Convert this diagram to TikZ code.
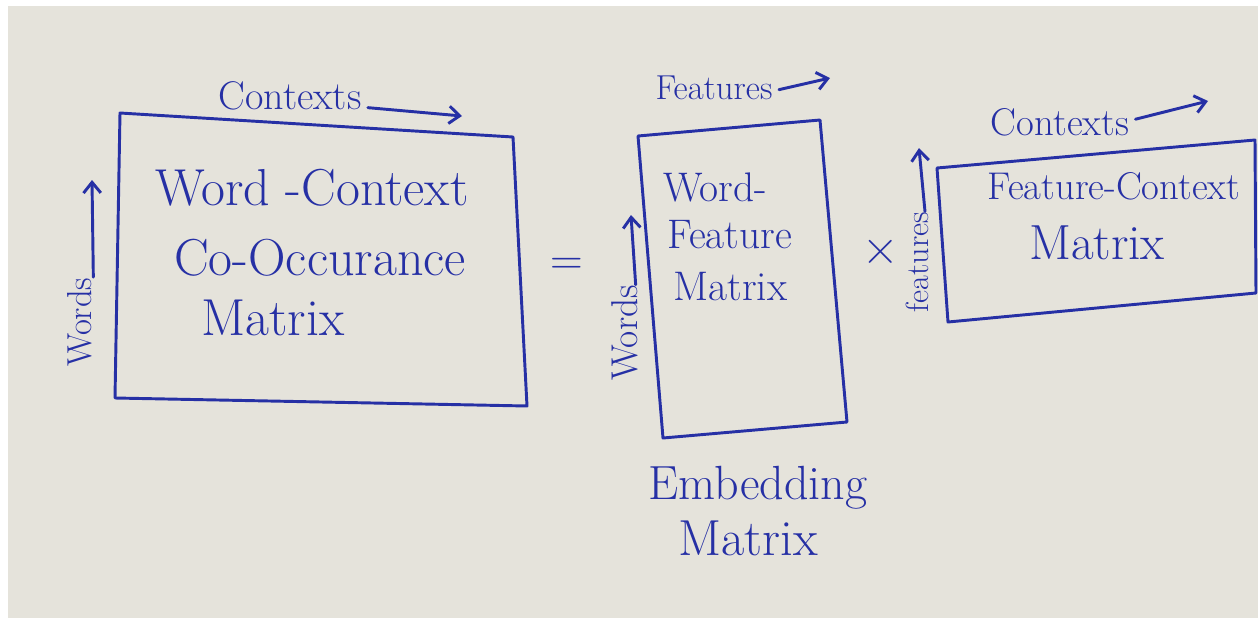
\documentclass[tikz,border=0pt]{standalone}
\usetikzlibrary{arrows.meta}

\definecolor{ink}{RGB}{38,48,165}
\definecolor{paper}{RGB}{229,227,219}

\tikzset{every picture/.style={line width=0.75pt}}
\tikzset{
  pen/.style={draw=ink, line width=2.2pt, line join=round, line cap=round},
  hand/.style={text=ink, inner sep=0pt},
  pointer/.style={pen, -{Straight Barb[length=8pt,width=13pt]}}
}

\begin{document}
\begin{tikzpicture}[x=0.75pt,y=0.75pt,yscale=-1,xscale=1]
	\useasboundingbox (0,0) rectangle (1258,618);

	%Shape: Rectangle [paper]
	\fill [white] (0,0) rectangle (1258,618);
	\fill [paper] (8,6) rectangle (1258,618);

	%Shape: Rectangle [co-occurrence matrix]
	\draw [pen] (120,113) -- (513,137) -- (527,406) -- (115,398) -- cycle ;
	%Shape: Rectangle [word-feature matrix]
	\draw [pen] (638,136) -- (820,120) -- (847,422) -- (663,438) -- cycle ;
	%Shape: Rectangle [feature-context matrix]
	\draw [pen] (937,168) -- (1255,140) -- (1256,293) -- (948,322) -- cycle ;

	% Text Node
	\node [hand, font=\fontsize{30}{32}\selectfont] (ctxA) at (290,96) {Contexts};
	% Text Node
	\node [hand, font=\fontsize{26}{28}\selectfont, rotate=90] (wordsA) at (80,322) {Words};
	% Text Node
	\node [hand, font=\fontsize{39}{42}\selectfont] (wcA) at (312,188) {Word -Context};
	% Text Node
	\node [hand, font=\fontsize{39}{42}\selectfont] (wcB) at (320,258) {Co-Occurance};
	% Text Node
	\node [hand, font=\fontsize{39}{42}\selectfont] (wcC) at (273,318) {Matrix};

	% Text Node
	\node [hand, font=\fontsize{34}{36}\selectfont] (eq) at (567,266) {=};

	% Text Node
	\node [hand, font=\fontsize{26}{28}\selectfont] (featB) at (714,88) {Features};
	% Text Node
	\node [hand, font=\fontsize{28}{30}\selectfont, rotate=90] (wordsB) at (625,333) {Words};
	% Text Node
	\node [hand, font=\fontsize{31}{34}\selectfont, anchor=west] (wfA) at (663,187) {Word-};
	% Text Node
	\node [hand, font=\fontsize{31}{34}\selectfont, anchor=west] (wfB) at (667,235) {Feature};
	% Text Node
	\node [hand, font=\fontsize{31}{34}\selectfont, anchor=west] (wfC) at (673,287) {Matrix};
	% Text Node
	\node [hand, font=\fontsize{36}{38}\selectfont] (embA) at (758,488) {Embedding};
	% Text Node
	\node [hand, font=\fontsize{38}{40}\selectfont] (embB) at (748,538) {Matrix};

	% Text Node
	\node [hand, font=\fontsize{38}{40}\selectfont] (times) at (881,252) {×};

	% Text Node
	\node [hand, font=\fontsize{24}{26}\selectfont, rotate=90] (featC) at (917,262) {features};
	% Text Node
	\node [hand, font=\fontsize{29}{31}\selectfont] (ctxC) at (1060,122) {Contexts};
	% Text Node
	\node [hand, font=\fontsize{29}{32}\selectfont] (fcA) at (1114,186) {Feature-Context};
	% Text Node
	\node [hand, font=\fontsize{37}{40}\selectfont] (fcB) at (1097,243) {Matrix};

	% free arrow ends
	\coordinate (ctxAtip) at (462,116);
	\coordinate (wordsAtip) at (92,180);
	\coordinate (featBtip) at (830,78);
	\coordinate (wordsBtip) at (631,215);
	\coordinate (featCtip) at (919,148);
	\coordinate (ctxCtip) at (1208,101);

	%Straight Lines [arrows]
	\draw [pointer] ([shift={(6,-2)}]ctxA.base east) -- (ctxAtip) ;
	\draw [pointer] ([xshift=10]wordsA.east) -- (wordsAtip) ;
	\draw [pointer] ([shift={(6,-10)}]featB.base east) -- (featBtip) ;
	\draw [pointer] ([xshift=8]wordsB.east) -- (wordsBtip) ;
	\draw [pointer] ([xshift=6]featC.east) -- (featCtip) ;
	\draw [pointer] ([shift={(6,-16)}]ctxC.base east) -- (ctxCtip) ;

\end{tikzpicture}
\end{document}
